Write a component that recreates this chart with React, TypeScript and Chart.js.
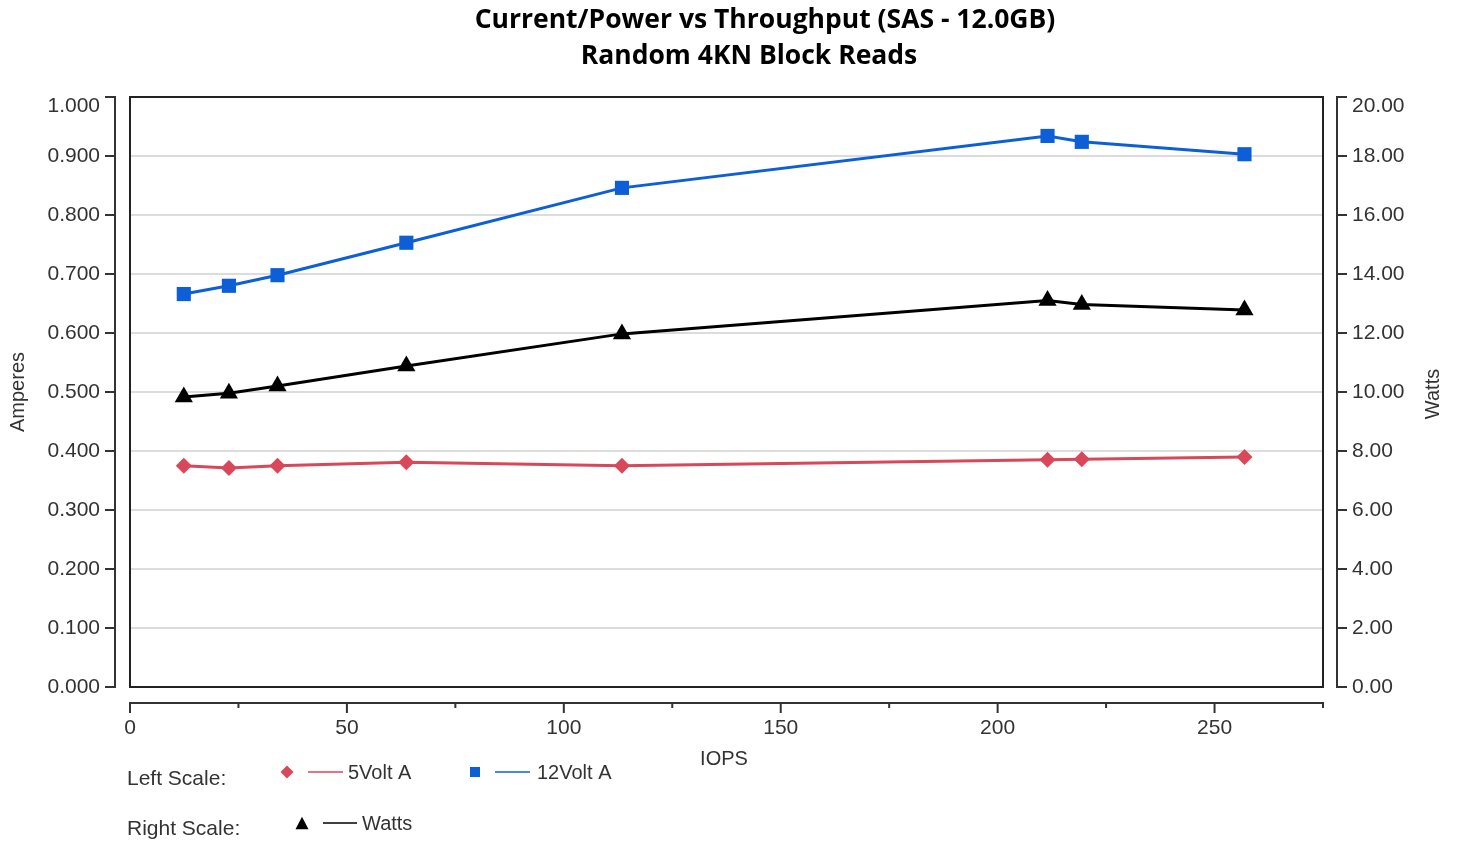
import React, { useEffect, useRef } from 'react';
import { Chart, registerables } from 'chart.js';

Chart.register(...registerables);

const titleLines = ['Current/Power vs Throughput (SAS - 12.0GB)', 'Random 4KN Block Reads'];
const xAxisTitle = 'IOPS';
const leftAxisTitle = 'Amperes';
const rightAxisTitle = 'Watts';

const iops = [12.4, 22.8, 34.0, 63.7, 113.4, 211.5, 219.4, 256.9];
const volt5 = [0.375, 0.371, 0.375, 0.381, 0.375, 0.385, 0.386, 0.39];
const volt12 = [0.666, 0.68, 0.698, 0.753, 0.846, 0.934, 0.924, 0.903];
const watts = [9.83, 9.96, 10.2, 10.88, 11.97, 13.1, 12.97, 12.78];

const seriesNames = ['5Volt A', '12Volt A', 'Watts'];
const legendGroups = ['Left Scale:', 'Right Scale:'];

const RED = '#d8475a';
const BLUE = '#0d5fd8';
const BLACK = '#000000';
const TEXT = '#333333';
const FONT_FAMILY = '"Liberation Sans", Arial, sans-serif';
const TICK_FONT = { family: FONT_FAMILY, size: 21 };

function drawDiamond(ctx: CanvasRenderingContext2D, x: number, y: number, r: number, c: string) {
  ctx.fillStyle = c;
  ctx.beginPath();
  ctx.moveTo(x - r, y);
  ctx.lineTo(x, y - r);
  ctx.lineTo(x + r, y);
  ctx.lineTo(x, y + r);
  ctx.closePath();
  ctx.fill();
}
function drawSquare(ctx: CanvasRenderingContext2D, x: number, y: number, s: number, c: string) {
  ctx.fillStyle = c;
  ctx.fillRect(x - s / 2, y - s / 2, s, s);
}
function drawTriangle(ctx: CanvasRenderingContext2D, x: number, y: number, w: number, c: string) {
  ctx.fillStyle = c;
  ctx.beginPath();
  ctx.moveTo(x, y - w * 0.55);
  ctx.lineTo(x + w / 2, y + w * 0.4);
  ctx.lineTo(x - w / 2, y + w * 0.4);
  ctx.closePath();
  ctx.fill();
}

const decorPlugin = {
  id: 'decor',
  afterDraw(chart: any) {
    const ctx: CanvasRenderingContext2D = chart.ctx;
    const { left, right, top, bottom } = chart.chartArea;
    ctx.save();
    // plot box
    ctx.strokeStyle = '#222';
    ctx.lineWidth = 2;
    ctx.strokeRect(left, top, right - left, bottom - top);

    ctx.strokeStyle = '#333';
    ctx.lineWidth = 2;
    // left axis
    const yS = chart.scales.y;
    const lx = left - 15;
    ctx.beginPath();
    ctx.moveTo(lx, yS.getPixelForValue(1));
    ctx.lineTo(lx, yS.getPixelForValue(0));
    yS.ticks.forEach((t: any) => {
      const p = yS.getPixelForValue(t.value);
      ctx.moveTo(lx + 1, p);
      ctx.lineTo(lx - 10, p);
    });
    ctx.stroke();
    // right axis
    const y1 = chart.scales.y1;
    const rx = right + 14;
    ctx.beginPath();
    ctx.moveTo(rx, y1.getPixelForValue(20));
    ctx.lineTo(rx, y1.getPixelForValue(0));
    y1.ticks.forEach((t: any) => {
      const p = y1.getPixelForValue(t.value);
      ctx.moveTo(rx - 1, p);
      ctx.lineTo(rx + 10, p);
    });
    ctx.stroke();
    // x axis
    const xS = chart.scales.x;
    const by = bottom + 16;
    ctx.beginPath();
    ctx.moveTo(xS.getPixelForValue(0), by);
    ctx.lineTo(xS.getPixelForValue(275), by);
    xS.ticks.forEach((t: any) => {
      const p = xS.getPixelForValue(t.value);
      ctx.moveTo(p, by - 1);
      ctx.lineTo(p, by + (t.value % 50 === 0 ? 10 : 5));
    });
    ctx.stroke();

    // top tick labels (kept inside the axis extent, as in the original)
    ctx.fillStyle = TEXT;
    ctx.font = `21px ${FONT_FAMILY}`;
    ctx.textBaseline = 'middle';
    ctx.textAlign = 'right';
    ctx.fillText((1).toFixed(3), left - 30, yS.getPixelForValue(1) + 9);
    ctx.textAlign = 'left';
    ctx.fillText((20).toFixed(2), right + 29, y1.getPixelForValue(20) + 9);

    // titles
    ctx.fillStyle = '#000';
    ctx.textAlign = 'center';
    ctx.textBaseline = 'middle';
    ctx.font = 'bold 26.5px "Open Sans", sans-serif';
    ctx.fillText(titleLines[0], 765, 20);
    ctx.fillText(titleLines[1], 749, 56);

    // axis titles
    ctx.fillStyle = TEXT;
    ctx.font = `20px ${FONT_FAMILY}`;
    ctx.fillText(xAxisTitle, 724, 759);
    ctx.save();
    ctx.translate(18, 392);
    ctx.rotate(-Math.PI / 2);
    ctx.fillText(leftAxisTitle, 0, 0);
    ctx.restore();
    ctx.save();
    ctx.translate(1433, 394);
    ctx.rotate(-Math.PI / 2);
    ctx.fillText(rightAxisTitle, 0, 0);
    ctx.restore();

    // legend
    ctx.textAlign = 'left';
    ctx.font = `21px ${FONT_FAMILY}`;
    ctx.fillText(legendGroups[0], 127, 779);
    ctx.fillText(legendGroups[1], 127, 829);

    ctx.font = `20px ${FONT_FAMILY}`;
    drawDiamond(ctx, 287, 772, 6.5, RED);
    ctx.strokeStyle = RED;
    ctx.lineWidth = 1.5;
    ctx.beginPath();
    ctx.moveTo(308, 772);
    ctx.lineTo(343, 772);
    ctx.stroke();
    ctx.fillStyle = TEXT;
    ctx.fillText(seriesNames[0], 348, 773);

    drawSquare(ctx, 475, 772, 10, BLUE);
    ctx.strokeStyle = BLUE;
    ctx.beginPath();
    ctx.moveTo(495, 772);
    ctx.lineTo(530, 772);
    ctx.stroke();
    ctx.fillStyle = TEXT;
    ctx.fillText(seriesNames[1], 537, 773);

    drawTriangle(ctx, 302, 824, 13, BLACK);
    ctx.strokeStyle = BLACK;
    ctx.beginPath();
    ctx.moveTo(323, 823);
    ctx.lineTo(357, 823);
    ctx.stroke();
    ctx.fillStyle = TEXT;
    ctx.fillText(seriesNames[2], 362, 824);

    ctx.restore();
  },
};

export default function App() {
  const ref = useRef<HTMLCanvasElement>(null);
  useEffect(() => {
    const pts = (ys: number[]) => iops.map((x, i) => ({ x, y: ys[i] }));
    const chart = new Chart(ref.current as HTMLCanvasElement, {
      type: 'line',
      data: {
        datasets: [
          {
            label: seriesNames[0],
            data: pts(volt5),
            yAxisID: 'y',
            borderColor: RED,
            backgroundColor: RED,
            borderWidth: 3,
            pointStyle: 'rectRot',
            pointRadius: 8,
            pointBorderWidth: 0,
          },
          {
            label: seriesNames[1],
            data: pts(volt12),
            yAxisID: 'y',
            borderColor: BLUE,
            backgroundColor: BLUE,
            borderWidth: 3,
            pointStyle: 'rect',
            pointRadius: 10,
            pointBorderWidth: 0,
          },
          {
            label: seriesNames[2],
            data: pts(watts),
            yAxisID: 'y1',
            borderColor: BLACK,
            backgroundColor: BLACK,
            borderWidth: 3,
            pointStyle: 'triangle',
            pointRadius: 10.5,
            pointBorderWidth: 0,
          },
        ],
      } as any,
      options: {
        responsive: false,
        animation: false,
        layout: { padding: { left: 8, top: 97, right: 0, bottom: 0 } },
        plugins: {
          legend: { display: false },
          title: { display: false },
          tooltip: { enabled: false },
        },
        scales: {
          x: {
            type: 'linear',
            min: 0,
            max: 275,
            afterFit: (s: any) => {
              s.height = 154;
            },
            grid: { display: false, drawTicks: false },
            border: { display: false },
            ticks: {
              stepSize: 25,
              autoSkip: false,
              maxRotation: 0,
              padding: 29,
              font: TICK_FONT,
              color: TEXT,
              callback: (v: any) => (Number(v) % 50 === 0 ? String(v) : ''),
            },
          },
          y: {
            position: 'left',
            min: 0,
            max: 1,
            afterFit: (s: any) => {
              s.width = 122;
            },
            grid: { color: '#dcdcdc', lineWidth: 2, drawTicks: false },
            border: { display: false },
            ticks: {
              stepSize: 0.1,
              padding: 30,
              font: TICK_FONT,
              color: TEXT,
              callback: (v: any) => (Number(v) >= 1 ? '' : Number(v).toFixed(3)),
            },
          },
          y1: {
            position: 'right',
            min: 0,
            max: 20,
            afterFit: (s: any) => {
              s.width = 134;
            },
            grid: { display: false, drawTicks: false },
            border: { display: false },
            ticks: {
              stepSize: 2,
              padding: 29,
              font: TICK_FONT,
              color: TEXT,
              callback: (v: any) => (Number(v) >= 20 ? '' : Number(v).toFixed(2)),
            },
          },
        },
      } as any,
      plugins: [decorPlugin],
    });
    return () => chart.destroy();
  }, []);
  return (
    <div style={{ position: 'absolute', left: 0, top: 0, width: 1457, height: 841, background: '#fff' }}>
      <canvas ref={ref} width={1457} height={841} style={{ display: 'block' }} />
    </div>
  );
}
